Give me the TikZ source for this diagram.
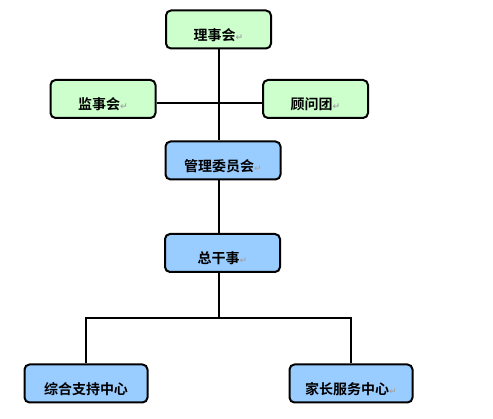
\documentclass[tikz,border=0pt]{standalone}
\usepackage{fontspec}
\setmainfont{Liberation Sans}
\newfontfamily\cjk{Noto Sans CJK SC}[BoldFont={* Bold}]
\newfontfamily\symfont{DejaVu Sans}
\usepackage{tikz}

\definecolor{boardgreen}{HTML}{CCFFCC}
\definecolor{staffblue}{HTML}{99CCFF}
\newcommand{\pmark}{{\symfont\fontsize{9}{9}\selectfont\color{black!35}\char"21B5}}

\begin{document}
\begin{tikzpicture}[x = 1pt, y = -1pt, line width = 2pt,
                        orgbox/.style = {draw, rounded corners = 5pt, inner sep = 0pt,
                                         text height = 30pt, text depth = 8pt,
                                         font = \cjk\bfseries\fontsize{14}{14}\selectfont},
                        greenbox/.style = {orgbox, fill = boardgreen, minimum width = 105pt},
                        bluebox/.style = {orgbox, fill = staffblue, minimum width = 115pt},
                        sidebox/.style = {orgbox, fill = staffblue, minimum width = 123pt}]
      \useasboundingbox (0, 0) rectangle (493, 419);
      \node [greenbox] (lishi) at (218.5, 29.5){理事会\pmark};
      \node [greenbox] (jianshi) at (103, 99){监事会\pmark};
      \node [greenbox] (guwen) at (315.5, 99){顾问团\pmark};
      \node [bluebox] (guanwei) at (223, 160.5){管理委员会\pmark};
      \node [bluebox] (zonggan) at (222.5, 253){总干事\pmark};
      \node [sidebox] (zonghe) at (86, 383.5){综合支持中心};
      \node [sidebox] (jiazhang) at (351, 383.5){家长服务中心\pmark};
      \coordinate (fork) at (219, 318);
      \draw (lishi.south -| fork) -- (guanwei.north -| fork);
      \draw (jianshi.east |- 0, 103) -- (guwen.west |- 0, 103);
      \draw (guanwei.south -| fork) -- (zonggan.north -| fork);
      \draw (zonggan.south -| fork) -- (fork);
      \draw (zonghe.north) -- (zonghe.north |- fork) -- (jiazhang.north |- fork) -- (jiazhang.north);
    \end{tikzpicture}
\end{document}
